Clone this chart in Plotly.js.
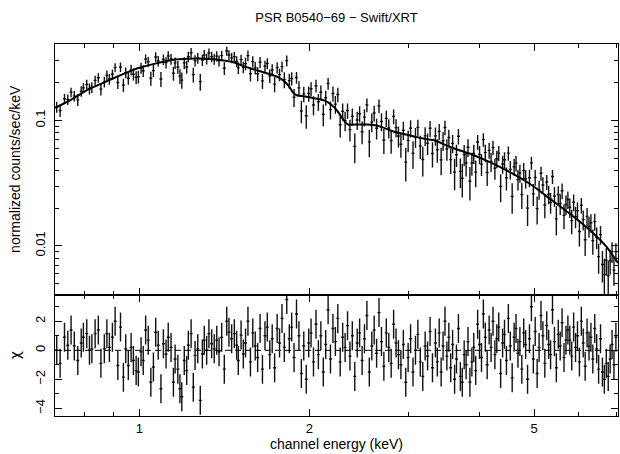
<!DOCTYPE html>
<html><head><meta charset="utf-8">
<script src="https://cdn.plot.ly/plotly-3.0.1.min.js"></script>
<style>html,body{margin:0;padding:0;background:#fff}</style>
</head><body><div id="chart" style="width:620px;height:454px"></div>
<script>
// channel energies (keV)
const energy = [
0.714,0.724,0.737,0.747,0.757,0.767,0.778,0.789,0.796,0.807,0.816,0.824,0.835,0.846,0.855,0.867,0.876,0.885,0.896,0.906,0.916,0.926,0.937,0.946,0.956,0.967,0.976,0.987,0.996,1.007,1.016,1.026,1.037,1.048,1.059,1.069,1.080,1.092,1.103,1.115,1.125,1.138,1.149,1.157,1.170,1.180,1.189,1.201,1.213,1.221,1.235,1.246,1.255,1.269,1.282,1.293,1.303,1.316,1.328,1.343,1.357,1.371,1.384,1.399,1.414,1.428,1.441,1.457,1.473,1.487,1.497,1.514,1.528,
1.542,1.557,1.573,1.588,1.604,1.620,1.636,1.652,1.669,1.685,1.702,1.719,1.736,1.754,1.771,1.789,1.806,1.824,1.843,1.861,1.879,1.898,1.917,1.936,1.955,1.975,1.995,2.014,2.034,2.055,2.075,2.096,2.117,2.138,2.159,2.180,2.202,2.224,2.246,2.268,2.291,2.314,2.337,2.360,2.383,2.407,2.431,2.455,2.480,2.504,2.529,2.554,2.580,2.605,2.631,2.657,2.684,2.710,2.737,2.765,2.792,2.820,2.848,2.876,2.905,2.934,2.963,2.992,3.022,3.052,3.083,3.113,3.144,3.176,3.207,3.239,3.272,3.304,
3.344,3.370,3.396,3.423,3.450,3.477,3.504,3.532,3.559,3.587,3.616,3.644,3.673,3.702,3.731,3.760,3.790,3.819,3.849,3.880,3.910,3.941,3.972,4.003,4.035,4.066,4.098,4.130,4.163,4.196,4.229,4.262,4.295,4.329,4.363,4.398,4.432,4.467,4.502,4.538,4.573,4.609,4.645,4.682,4.719,4.756,4.793,4.831,4.869,4.907,4.946,4.985,5.023,5.063,5.103,5.143,5.183,5.224,5.265,5.306,5.348,5.390,5.433,5.475,5.518,5.562,5.605,5.649,5.694,5.739,5.784,5.829,5.875,5.921,5.968,6.015,6.062,6.109,6.158,6.206,6.255,6.304,6.353,6.403,6.454,6.505,6.556,6.607,6.659,6.712,6.765,6.818,6.871,6.925,6.980];

// normalized counts/sec/keV
const counts = [
.128,.120,.149,.147,.168,.157,.146,.171,.182,.194,.179,.184,.209,.219,.178,.203,.230,.214,.234,.264,.201,.267,.192,.241,.217,.253,.234,.221,.223,.262,.249,.309,.294,.217,.250,.321,.298,.214,.307,.290,.327,.309,.238,.288,.267,.226,.210,.288,.267,.322,.347,.232,.300,.314,.204,.303,.333,.310,.345,.322,.309,.326,.300,.329,.261,.358,.333,.316,.323,.296,.263,.306,.265,
.284,.329,.236,.295,.263,.236,.291,.207,.271,.285,.227,.253,.195,.264,.232,.269,
.212,.300,.208,.216,.153,.220,.182,.119,.163,.109,.164,.179,.133,.189,.141,.168,.112,.152,.197,.122,
.164,.135,.161,.0924,.1185,.0995,.120,.0845,.108,.0622,.1008,.1131,.0813,.1064,.1332,.0675,.0970,.1146,.0868,.1307,
.0981,.0698,.1040,.0870,.0691,.1079,.0877,.0752,.0646,.0836,.0465,.0694,.0866,.0548,.0740,.0881,.0625,.0488,.0754,.0659,.0866,.0546,
.0754,.0584,.0818,.0485,.0690,.0880,.0592,.0732,.0487,.0657,
.0387,.0533,.0748,.0393,.0346,.0535,.0458,.0611,.0328,.0458,
.0545,.0387,.0674,.0537,.0449,.0703,.0554,.0385,.0578,.0471,
.0608,.0416,.0495,.0549,.0298,.0450,.0486,.0349,.0549,.0407,
.0248,.0428,.0457,.0339,.0381,.0257,.0399,.0343,.0200,.0349,
.0459,.0260,.0352,.0198,.0282,.0379,.0306,.0212,.0323,.0258,
.0222,.0357,.0250,.0164,.0257,.0217,.0275,.0175,.0214,.0234,
.0203,.0159,.0223,.0171,.0191,.0130,.0211,.0162,.0112,.0172,
.0143,.0153,.0110,.0156,.0117,.0082,.0123,.0071,.0059,.0077,
.0058,.0076,.0090,.0064,.0090];

// 1-sigma errors on counts
const countErr = [
.0128,.0132,.0137,.0142,.0147,.0152,.0157,.0163,.0167,.0174,.0179,.0182,.0187,.0192,.0196,.0201,.0206,.0210,.0215,.0220,.0225,.0230,.0235,.0239,.0243,.0248,.0252,.0257,.0262,.0265,.0268,.0271,.0275,.0278,.0282,.0285,.0288,.0291,.0294,.0297,.0300,.0303,.0305,.0306,.0307,.0308,.0309,.0310,.0311,.0311,.0311,.0311,.0311,.0311,.0311,.0311,.0311,.0310,.0309,.0308,.0306,.0305,.0303,.0302,.0300,.0298,.0296,.0293,.0290,.0286,.0283,.0277,.0272,
.032,.032,.031,.031,.030,.030,.030,.029,.029,.029,.028,.028,.027,.027,.026,.026,
.031,.030,.028,.026,.025,.024,.024,.024,.023,.023,.023,.023,.023,.022,.022,.022,.022,.021,.021,.020,
.023,.022,.021,.0194,.0184,.0173,.0166,.0164,.0165,.0166,.0167,.0167,.0167,.0167,.0167,.0167,.0166,.0165,.0162,.016,
.0159,.0157,.0154,.0151,.0149,.0147,.0145,.0143,.0142,.014,.0139,.0137,.0136,.0135,.0133,.0132,.0131,.013,.0129,.0128,.0126,.0125,
.0125,.0123,.0121,.0120,.0118,.0116,.0115,.0113,.0112,.0110,
.0109,.0107,.0106,.0105,.0103,.0102,.0100,.0099,.0098,.0096,
.0095,.0093,.0092,.0090,.0089,.0087,.0086,.0085,.0083,.0082,
.0080,.0079,.0078,.0077,.0075,.0074,.0073,.0072,.0071,.0069,
.0068,.0066,.0065,.0063,.0062,.0060,.0059,.0058,.0056,.0055,
.0054,.0052,.0051,.0050,.0049,.0048,.0047,.0046,.0044,.0043,
.0042,.0046,.0045,.0043,.0042,.0041,.0040,.0039,.0038,.0037,
.0036,.0035,.0034,.0033,.0032,.0031,.0030,.0029,.0029,.0028,
.0027,.0026,.0025,.0024,.0023,.0022,.0021,.0020,.0020,.0019,
.0018,.0017,.0017,.0016,.0015];

// residuals (chi)
const chi = [
0,-0.9,0.9,0.35,1.4,0.3,-0.7,0.5,0.9,1.15,0,0.1,1.15,1.4,-0.9,0.1,1.15,0.2,0.9,2.0,-1.05,1.6,-1.85,0.1,-1.05,0.2,-0.7,-1.4,-1.5,-0.1,-0.7,1.4,0.7,-2.2,-1.15,1.25,0.35,-2.65,0.45,-0.25,0.9,0.2,-2.2,-0.6,-1.3,-2.65,-3.2,-0.7,-1.4,0.35,1.15,-2.55,-0.35,0.1,-3.45,-0.25,0.7,0,1.15,0.45,0.1,0.7,-0.1,0.9,-1.3,2.0,1.25,0.8,1.15,0.35,-0.7,1.05,-0.25,
0.5,2.0,-0.8,1.2,0.3,-0.5,1.5,-1.3,1.0,1.6,-0.3,0.8,-1.2,1.5,0.5,2.2,
0.2,3.5,0.8,1.6,-0.5,2.5,1.0,-1.6,0.3,-2.0,0.5,1.2,-0.8,1.8,-0.3,1.0,-1.5,0.4,2.8,-0.6,
1.5,0.6,2.2,-0.8,0.9,0.2,1.7,-0.4,1.0,-1.8,0.5,1.2,-0.7,0.8,2.4,-1.5,0.3,1.4,-0.2,2.6,
0.6,-1.1,1.2,0.2,-0.9,1.8,0.5,-0.3,-1.0,0.4,-2.2,-0.5,0.8,-1.5,0.0,1.1,-0.8,-1.8,0.3,-0.4,1.3,-1.2,
0.5,-0.8,1.2,-1.5,0.3,2.0,-0.4,0.9,-1.2,0.4,
-2.0,-0.6,1.5,-1.8,-2.2,-0.3,-1.0,0.6,-2.2,-0.8,
0.2,-1.4,1.8,0.4,-0.5,2.5,0.9,-1.0,1.4,0.2,
2.0,-0.3,0.8,1.6,-1.6,0.5,1.1,-0.7,2.2,0.3,
-1.9,0.9,1.5,-0.2,0.6,-1.3,1.2,0.4,-2.0,0.8,
3.0,-0.6,1.3,-1.6,0.2,2.4,1.0,-0.9,1.7,0.4,
-0.3,2.8,0.6,-1.2,1.1,0.3,1.9,-0.5,0.7,1.4,
0.7,-0.4,1.6,0.2,1.0,-0.8,2.0,0.5,-1.1,1.2,
0.3,0.9,-0.6,1.5,0.1,-1.3,0.8,-1.5,-2.0,-0.9,
-1.8,-0.6,0.4,-1.0,0.9];

// folded model curve
const modelEnergy = [0.709,0.739,0.770,0.812,0.870,0.931,0.996,1.066,1.141,1.221,1.307,1.399,1.467,1.538,1.636,1.70,1.76,1.80,1.84,1.87,1.90,1.95,2.02,2.13,2.19,2.24,2.27,2.31,2.35,2.44,2.53,2.60,2.69,2.80,2.90,3.03,3.10,3.20,3.34,3.55,3.85,4.175,4.53,4.914,5.33,5.78,6.28,6.72,7.04];
const modelFlux = [0.126,0.138,0.153,0.177,0.203,0.232,0.262,0.284,0.304,0.311,0.311,0.302,0.291,0.269,0.247,0.235,0.222,0.208,0.188,0.168,0.159,0.156,0.152,0.144,0.133,0.120,0.110,0.098,0.0925,0.093,0.093,0.092,0.0885,0.0825,0.079,0.0755,0.0737,0.0715,0.0692,0.0614,0.0543,0.0466,0.0388,0.0313,0.0238,0.0181,0.0133,0.0098,0.0073];

const xMajor = [1,2,5];
const xMinor = [0.8,0.9,3,4,6,7];
const yMajor = [0.01,0.1];
const yMinor = [0.005,0.006,0.007,0.008,0.009,0.02,0.03,0.04,0.05,0.06,0.07,0.08,0.09,0.2,0.3,0.4];
const chiMajor = [-4,-2,0,2];
const chiMinor = [-3,-1,1,3];

const FONT = 'Liberation Sans, Arial, Helvetica, sans-serif';
const K = '#000';
const errStyle = {width:0, thickness:1.4, color:'#111'};

const traces = [
  {x:energy, y:counts, xaxis:'x2', yaxis:'y', type:'scatter', mode:'markers',
   marker:{size:1, color:K},
   error_y:Object.assign({type:'data', array:countErr, visible:true}, errStyle),
   error_x:Object.assign({type:'percent', value:0.6, visible:true}, errStyle),
   hoverinfo:'skip', showlegend:false},
  {x:modelEnergy, y:modelFlux, xaxis:'x2', yaxis:'y', type:'scatter', mode:'lines',
   line:{color:K, width:2, shape:'spline', smoothing:0.5}, showlegend:false, hoverinfo:'skip'},
  {x:energy, y:chi, xaxis:'x', yaxis:'y2', type:'scatter', mode:'markers',
   marker:{size:1, color:K},
   error_y:Object.assign({type:'constant', value:1, visible:true}, errStyle),
   error_x:Object.assign({type:'percent', value:0.6, visible:true}, errStyle),
   hoverinfo:'skip', showlegend:false}
];

const split = 0.3266;
const xRange = [Math.log10(0.709), Math.log10(7.04)];
const common = {showline:true, linecolor:K, linewidth:1, mirror:'ticks', ticks:'inside',
  tickcolor:K, tickwidth:1, ticklen:7, showgrid:false, zeroline:false, automargin:false,
  tickfont:{family:FONT, size:13, color:K}};

const layout = {
  width:620, height:454,
  margin:{l:55, r:2, t:44, b:38},
  paper_bgcolor:'#fff', plot_bgcolor:'#fff',
  font:{family:FONT, color:K, size:13},
  title:{text:'PSR B0540\u221269 \u2212 Swift/XRT', font:{family:FONT, size:13, color:K},
         x:0.5, xref:'paper', xanchor:'center', y:1-17/454, yref:'container', yanchor:'middle'},
  xaxis:Object.assign({}, common, {type:'log', range:xRange, domain:[0,1], anchor:'y2',
    tickmode:'array', tickvals:xMajor, ticktext:xMajor.map(String),
    minor:{tickmode:'array', tickvals:xMinor, ticks:'inside', ticklen:4, tickcolor:K, tickwidth:1, showgrid:false},
    title:{text:'channel energy (keV)', font:{family:FONT, size:14, color:K}, standoff:4}}),
  xaxis2:Object.assign({}, common, {type:'log', range:xRange, domain:[0,1], anchor:'y', matches:'x',
    showticklabels:false, tickmode:'array', tickvals:xMajor,
    minor:{tickmode:'array', tickvals:xMinor, ticks:'inside', ticklen:4, tickcolor:K, tickwidth:1, showgrid:false}}),
  yaxis:Object.assign({}, common, {type:'log', range:[-2.388,-0.39], domain:[split,1], anchor:'x2',
    tickmode:'array', tickvals:yMajor, ticktext:['0.01','0.1'], tickangle:-90, ticklabelstandoff:4,
    minor:{tickmode:'array', tickvals:yMinor, ticks:'inside', ticklen:4, tickcolor:K, tickwidth:1, showgrid:false},
    title:{text:'normalized counts/sec/keV', font:{family:FONT, size:14, color:K}, standoff:8}}),
  yaxis2:Object.assign({}, common, {range:[-4.53,3.85], domain:[0,split], anchor:'x',
    tickmode:'array', tickvals:chiMajor, tickangle:-90, ticklabelstandoff:4,
    minor:{tickmode:'array', tickvals:chiMinor, ticks:'inside', ticklen:4, tickcolor:K, tickwidth:1, showgrid:false},
    title:{text:'\u03c7', font:{family:'DejaVu Sans, sans-serif', size:14, color:K}, standoff:8}}),
  shapes:[{type:'line', xref:'paper', x0:0, x1:1, yref:'y2', y0:0, y1:0,
           line:{color:K, width:1, dash:'6px,4px'}, layer:'above'}]
};

Plotly.newPlot('chart', traces, layout, {displayModeBar:false, staticPlot:true});
</script></body></html>
